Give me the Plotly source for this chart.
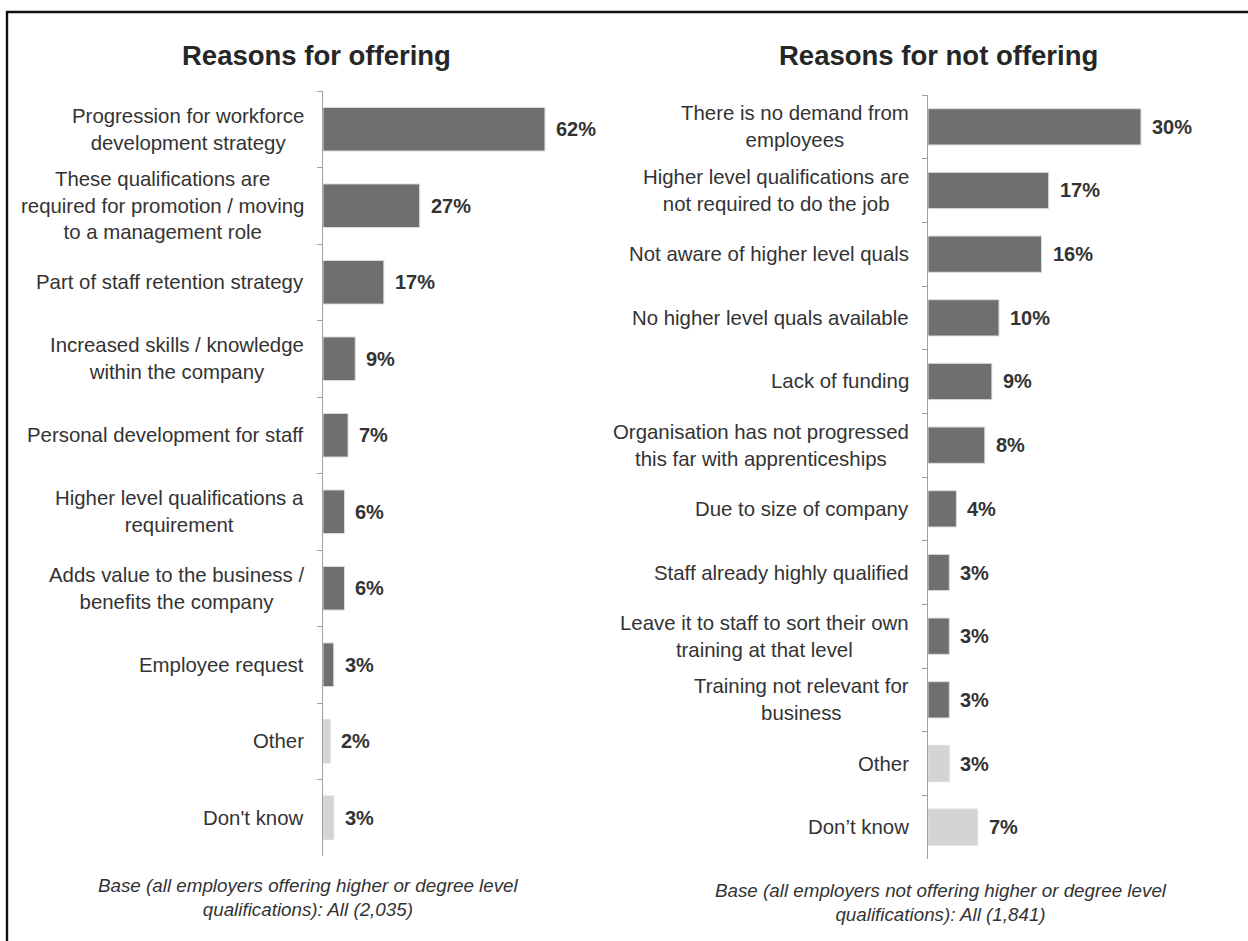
import plotly.graph_objects as go

# Reasons for offering higher / degree level qualifications
offer_labels = [
    "Progression for workforce<br>development strategy",
    "These qualifications are<br>required for promotion / moving<br>to a management role",
    "Part of staff retention strategy",
    "Increased skills / knowledge<br>within the company",
    "Personal development for staff",
    "Higher level qualifications a<br>requirement",
    "Adds value to the business /<br>benefits the company",
    "Employee request",
    "Other",
    "Don't know",
]
offer_values = [62, 27, 17, 9, 7, 6, 6, 3, 2, 3]

# Reasons for not offering them
not_offer_labels = [
    "There is no demand from<br>employees",
    "Higher level qualifications are<br>not required to do the job",
    "Not aware of higher level quals",
    "No higher level quals available",
    "Lack of funding",
    "Organisation has not progressed<br>this far with apprenticeships",
    "Due to size of company",
    "Staff already highly qualified",
    "Leave it to staff to sort their own<br>training at that level",
    "Training not relevant for<br>business",
    "Other",
    "Don’t know",
]
not_offer_values = [30, 17, 16, 10, 9, 8, 4, 3, 3, 3, 3, 7]

titles = ["Reasons for offering", "Reasons for not offering"]
footnotes = [
    "Base (all employers offering higher or degree level<br>qualifications): All (2,035)",
    "Base (all employers not offering higher or degree level<br>qualifications): All (1,841)",
]

W, H = 1248, 941
DARK, LIGHT = "#6f6f6f", "#d4d4d4"
TEXT = "#333333"
FONT = "Liberation Sans, Arial, sans-serif"


def px_x(p):
    return p / W


def px_y(p):
    return 1 - p / H


def bar_colors(labels):
    return [LIGHT if lab in ("Other", "Don't know", "Don’t know") else DARK for lab in labels]


fig = go.Figure()

panels = [
    # labels, values, axis suffix, x-domain px, y-domain px (top, bottom), px per percent
    (offer_labels, offer_values, "", (323, 620), (91, 856), 3.58),
    (not_offer_labels, not_offer_values, "2", (928, 1235), (95, 859), 7.1),
]

for labels, values, sfx, (xl, xr), (yt, yb), scale in panels:
    xa, ya = "x" + sfx, "y" + sfx
    fig.add_trace(go.Bar(
        x=values, y=labels, orientation="h",
        xaxis=xa, yaxis=ya, width=0.57,
        marker=dict(color=bar_colors(labels), line=dict(color="#dedede", width=1)),
        hoverinfo="x+y", showlegend=False,
    ))
    n = len(labels)
    fig.update_layout(**{
        ("xaxis" + sfx): dict(
            domain=[px_x(xl), px_x(xr)], range=[0, (xr - xl) / scale],
            visible=False, fixedrange=True, anchor=ya,
        ),
        ("yaxis" + sfx): dict(
            domain=[px_y(yb), px_y(yt)], type="category",
            categoryorder="array", categoryarray=labels,
            range=[n - 0.5, -0.5], anchor=xa,
            showline=True, linecolor="#a0a0a0", linewidth=1.2,
            ticks="outside", ticklen=5, tickcolor="#a0a0a0", tickwidth=1.2,
            tickson="boundaries", showticklabels=False, showgrid=False,
            zeroline=False, fixedrange=True,
        ),
    })
    # category labels, centred lines, right edge just left of the axis
    for lab in labels:
        fig.add_annotation(
            xref=xa, yref=ya, x=0, y=lab, text=lab, showarrow=False,
            xanchor="right", yanchor="middle", align="center", xshift=-17,
            font=dict(family=FONT, size=20.4, color=TEXT),
        )
    # value labels beside each bar
    for lab, v in zip(labels, values):
        fig.add_annotation(
            xref=xa, yref=ya, x=v, y=lab, text=f"<b>{v}%</b>", showarrow=False,
            xanchor="left", yanchor="middle", xshift=9,
            font=dict(family=FONT, size=20, color=TEXT),
        )

# panel titles
for t, cx in zip(titles, [316, 938]):
    fig.add_annotation(
        xref="paper", yref="paper", x=px_x(cx), y=px_y(55), text=f"<b>{t}</b>",
        showarrow=False, xanchor="center", yanchor="middle",
        font=dict(family=FONT, size=27.5, color="#262626"),
    )

# base notes under each panel
for note, cx, cy in zip(footnotes, [308, 941], [897, 902]):
    fig.add_annotation(
        xref="paper", yref="paper", x=px_x(cx), y=px_y(cy), text=f"<i>{note}</i>",
        showarrow=False, xanchor="center", yanchor="middle", align="center",
        font=dict(family=FONT, size=18.8, color=TEXT),
    )

# frame around the whole chart
fig.add_shape(
    type="rect", xref="paper", yref="paper",
    x0=px_x(7), x1=1.02, y0=-0.02, y1=px_y(12),
    line=dict(color="#111111", width=2.4), fillcolor="rgba(0,0,0,0)", layer="above",
)

fig.update_layout(
    width=W, height=H,
    margin=dict(l=0, r=0, t=0, b=0),
    paper_bgcolor="white", plot_bgcolor="white",
    bargap=0.43,
)

fig.write_html("out.html")
